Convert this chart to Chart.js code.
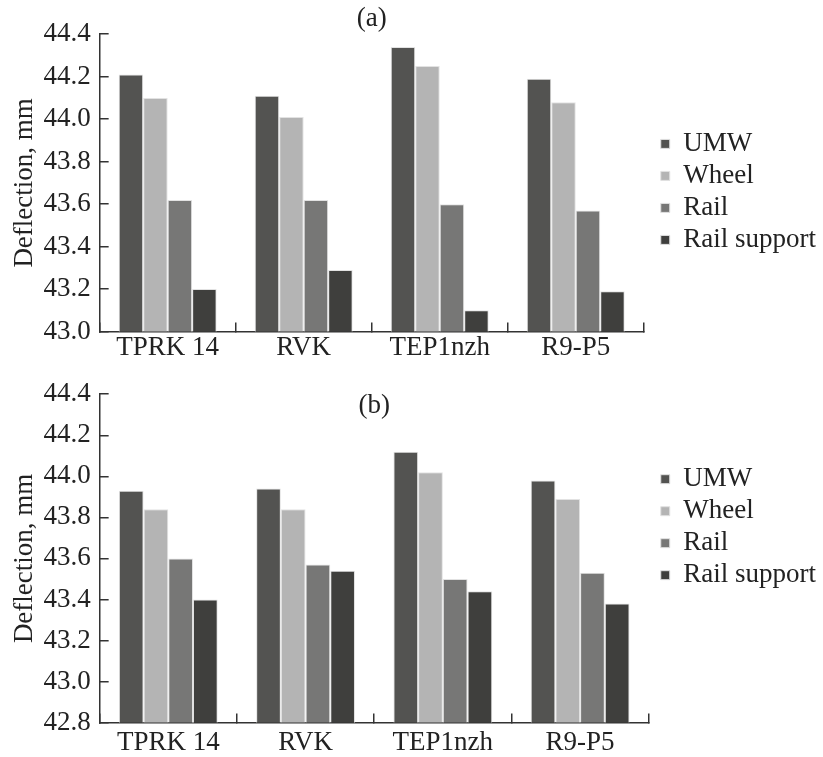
<!DOCTYPE html>
<html>
<head>
<meta charset="utf-8">
<script src="https://cdn.jsdelivr.net/npm/chart.js@4"></script>
<style>
  body { margin: 0; background: #fff; overflow: hidden; }
  #page { position: relative; width: 823px; height: 757px; overflow: hidden; }
  .panel { position: absolute; left: 0; width: 823px; }
  #wrapA { top: 0; height: 373px; }
  #wrapB { top: 360px; height: 412px; }
</style>
</head>
<body>
<div id="page">
  <div class="panel" id="wrapA"><canvas id="chartA"></canvas></div>
  <div class="panel" id="wrapB"><canvas id="chartB"></canvas></div>
</div>
<script>
const categories = ['TPRK 14', 'RVK', 'TEP1nzh', 'R9-P5'];
const seriesNames = ['UMW', 'Wheel', 'Rail', 'Rail support'];
const seriesColors = ['#535351', '#b4b4b4', '#777776', '#3f3f3d'];

// panel (a)
const umwA = [44.21, 44.11, 44.34, 44.19];
const wheelA = [44.10, 44.01, 44.25, 44.08];
const railA = [43.62, 43.62, 43.60, 43.57];
const supportA = [43.20, 43.29, 43.10, 43.19];

// panel (b)
const umwB = [43.93, 43.94, 44.12, 43.98];
const wheelB = [43.84, 43.84, 44.02, 43.89];
const railB = [43.60, 43.57, 43.50, 43.53];
const supportB = [43.40, 43.54, 43.44, 43.38];

const serif = '"Liberation Serif", "Times New Roman", serif';

// draws the "(a)" / "(b)" mark centred over the plot
const panelLabel = {
  id: 'panelLabel',
  afterDraw(chart, args, opts) {
    const { ctx, chartArea } = chart;
    ctx.save();
    ctx.font = '27px ' + serif;
    ctx.fillStyle = '#222';
    ctx.textAlign = 'center';
    ctx.textBaseline = 'middle';
    ctx.fillText(opts.text, (chartArea.left + chartArea.right) / 2, opts.y);
    ctx.restore();
  }
};

function makeChart(id, rows, yMin, cfg) {
  const ctx = document.getElementById(id).getContext('2d');
  return new Chart(ctx, {
    type: 'bar',
    data: {
      labels: categories,
      datasets: rows.map((data, i) => ({
        label: seriesNames[i],
        data,
        backgroundColor: seriesColors[i],
        borderColor: '#e2e2e2',
        borderWidth: 1,
        categoryPercentage: 0.72,
        barPercentage: 1.0
      }))
    },
    plugins: [panelLabel],
    options: {
      responsive: true,
      maintainAspectRatio: false,
      animation: false,
      layout: { padding: { top: cfg.padTop, left: 0, right: -3, bottom: 0 } },
      plugins: {
        tooltip: { enabled: false },
        panelLabel: { text: cfg.label, y: cfg.labelY },
        legend: {
          position: 'right',
          align: 'start',
          fullSize: false,
          maxWidth: 200,
          // empty title only pushes the entries down
          title: { display: true, text: '', font: { size: 1 }, padding: { top: cfg.legendOffset, bottom: 0 } },
          labels: {
            boxWidth: 9,
            boxHeight: 9,
            padding: 5,
            color: '#222',
            font: { family: serif, size: 27 }
          }
        }
      },
      scales: {
        x: {
          grid: {
            offset: true,
            drawOnChartArea: false,
            tickLength: -9,
            color: '#333',
            lineWidth: 1.5
          },
          border: { color: '#333', width: 1.5 },
          ticks: { color: '#222', padding: cfg.xPad, font: { family: serif, size: 27 } }
        },
        y: {
          min: yMin,
          max: 44.4,
          grid: {
            drawOnChartArea: false,
            tickLength: -9,
            color: '#333',
            lineWidth: 1.5
          },
          border: { color: '#333', width: 1.5 },
          ticks: {
            stepSize: 0.2,
            color: '#222',
            padding: 18,
            font: { family: serif, size: 27 },
            callback: (v) => Number(v).toFixed(1)
          },
          title: {
            display: true,
            text: 'Deflection, mm',
            color: '#222',
            font: { family: serif, size: 27 },
            padding: { top: 9, bottom: -16 }
          }
        },
        // empty spacer between plot and legend
        gap: {
          position: 'right',
          display: true,
          grid: { display: false },
          border: { display: false },
          ticks: { display: false },
          afterFit: (s) => { s.width = cfg.gap; }
        }
      }
    }
  });
}

makeChart('chartA', [umwA, wheelA, railA, supportA], 43.0,
  { padTop: 21, label: '(a)', labelY: 19, legendOffset: 90, xPad: 9, gap: 12 });
makeChart('chartB', [umwB, wheelB, railB, supportB], 42.8,
  { padTop: 16.8, label: '(b)', labelY: 46, legendOffset: 65.3, xPad: 13, gap: 7 });
</script>
</body>
</html>
